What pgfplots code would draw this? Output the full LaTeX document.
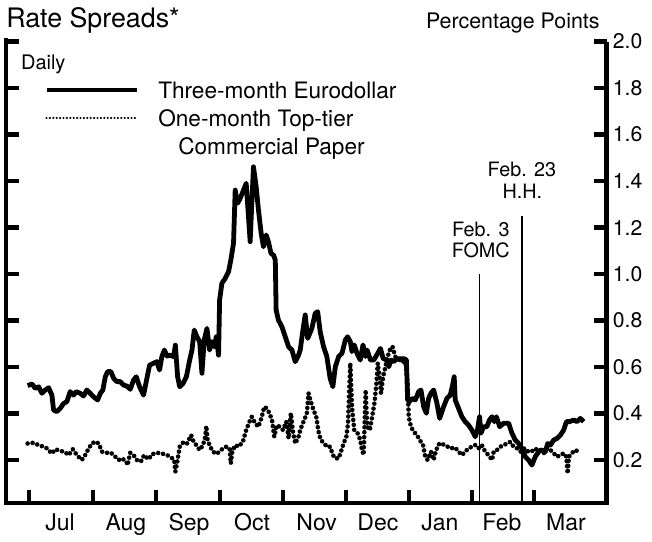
\documentclass[border=0pt]{standalone}
\usepackage{pgfplots}
\pgfplotsset{compat=1.18}
\usepackage{pgfplotstable}
\usepackage{fontspec}
\setmainfont{TeX Gyre Heros}

\pgfplotstableread{
day val
-0.8 0.520
1.3 0.527
2.9 0.508
4.5 0.515
6.1 0.487
7.7 0.501
9.3 0.511
10.9 0.479
11.7 0.415
13.3 0.408
14.9 0.422
16.5 0.443
18.1 0.451
19.7 0.494
21.3 0.479
22.6 0.494
24.5 0.487
26.1 0.475
27.7 0.501
29.3 0.487
30.9 0.472
32.9 0.458
34.2 0.487
35.4 0.501
36.6 0.558
37.7 0.580
39.3 0.580
40.6 0.551
42.2 0.537
43.8 0.537
45.4 0.522
47.0 0.518
48.6 0.504
50.2 0.544
51.5 0.558
53.1 0.515
55.0 0.479
56.6 0.551
57.9 0.608
59.8 0.616
61.4 0.623
62.7 0.587
63.8 0.644
65.0 0.673
66.3 0.647
67.9 0.651
69.5 0.644
70.3 0.694
71.4 0.558
72.4 0.515
74.0 0.529
75.6 0.558
77.2 0.630
78.3 0.673
79.4 0.759
80.7 0.730
82.0 0.709
83.1 0.573
84.2 0.716
85.5 0.766
86.8 0.673
87.9 0.709
89.0 0.687
90.0 0.730
91.1 0.651
91.6 0.888
92.7 0.960
94.3 0.981
95.9 1.010
97.0 1.060
98.3 1.132
99.1 1.361
100.2 1.304
101.5 1.325
102.8 1.354
104.4 1.390
105.5 1.246
106.3 1.139
107.1 1.304
107.9 1.461
109.2 1.375
110.3 1.275
111.6 1.175
112.7 1.117
114.0 1.168
115.1 1.139
116.3 1.089
117.6 1.081
118.4 1.060
118.8 0.845
119.9 0.802
121.6 0.773
123.2 0.730
124.8 0.687
126.4 0.673
128.0 0.623
129.6 0.651
130.4 0.673
131.7 0.759
132.8 0.824
134.0 0.723
136.0 0.766
137.6 0.831
138.8 0.838
140.0 0.752
141.6 0.688
143.2 0.645
144.8 0.551
146.1 0.515
147.3 0.601
148.9 0.645
150.5 0.659
152.1 0.716
153.2 0.730
154.5 0.709
155.3 0.666
156.4 0.695
157.7 0.659
159.3 0.630
160.6 0.695
161.8 0.645
162.6 0.673
164.2 0.630
165.8 0.630
167.7 0.659
169.0 0.680
170.3 0.637
171.9 0.630
173.0 0.601
174.1 0.630
175.4 0.623
177.0 0.637
178.6 0.630
180.2 0.637
181.5 0.630
182.1 0.458
183.0 0.451
184.2 0.465
185.8 0.458
187.4 0.494
188.5 0.501
189.8 0.429
191.1 0.401
192.2 0.465
193.3 0.487
194.6 0.501
196.2 0.444
197.5 0.379
199.4 0.429
201.0 0.465
202.6 0.479
203.9 0.529
204.5 0.558
205.0 0.458
206.6 0.422
208.2 0.386
209.8 0.365
211.4 0.350
213.0 0.329
214.6 0.300
215.7 0.329
216.7 0.386
217.4 0.315
218.6 0.343
220.2 0.343
221.5 0.372
222.7 0.386
223.8 0.365
224.8 0.386
226.4 0.343
228.3 0.358
230.7 0.358
232.3 0.315
233.9 0.286
235.5 0.271
237.1 0.250
238.7 0.214
240.3 0.200
241.9 0.178
243.5 0.214
245.2 0.236
246.8 0.243
248.4 0.236
249.5 0.271
250.8 0.264
252.4 0.286
254.0 0.293
255.6 0.307
257.2 0.329
258.5 0.365
260.1 0.365
262.0 0.372
263.6 0.365
265.2 0.379
266.8 0.365
}\eurodollar

\pgfplotstableread{
day val
-0.8 0.271
2.1 0.274
4.5 0.264
6.9 0.257
8.5 0.250
10.9 0.228
12.5 0.246
14.9 0.240
17.3 0.233
18.9 0.221
21.0 0.246
22.9 0.221
25.3 0.200
26.9 0.221
28.6 0.250
30.2 0.271
31.8 0.279
33.4 0.271
35.0 0.236
37.4 0.231
39.3 0.231
41.4 0.214
43.0 0.200
44.6 0.207
46.7 0.193
47.3 0.178
48.6 0.231
50.2 0.221
51.8 0.200
53.7 0.193
55.3 0.221
57.4 0.203
59.0 0.224
61.4 0.231
63.8 0.228
66.3 0.221
67.9 0.214
69.8 0.200
70.3 0.150
71.1 0.185
72.4 0.257
74.3 0.278
75.9 0.271
77.9 0.307
79.1 0.278
80.4 0.264
82.0 0.243
83.6 0.264
84.7 0.300
85.2 0.346
85.8 0.286
87.1 0.257
88.4 0.236
90.0 0.226
91.6 0.236
93.2 0.250
94.8 0.257
96.4 0.250
97.0 0.185
97.7 0.236
99.1 0.264
100.7 0.257
102.8 0.278
104.4 0.329
106.0 0.365
107.1 0.386
108.7 0.358
110.3 0.343
111.9 0.386
113.1 0.429
114.3 0.422
115.6 0.401
116.8 0.372
117.9 0.300
119.2 0.350
120.5 0.343
122.1 0.329
123.7 0.365
124.8 0.293
125.9 0.401
126.9 0.322
128.0 0.271
129.6 0.300
130.4 0.329
132.0 0.365
133.6 0.401
134.4 0.487
135.5 0.451
136.8 0.415
138.1 0.386
139.2 0.322
140.3 0.286
141.9 0.272
143.2 0.257
144.8 0.257
146.1 0.222
147.3 0.207
148.9 0.207
150.0 0.236
151.3 0.272
152.6 0.300
153.4 0.358
154.0 0.501
154.5 0.616
155.3 0.429
156.4 0.329
158.0 0.315
159.3 0.286
160.1 0.243
160.9 0.222
161.4 0.358
161.9 0.501
162.6 0.343
163.9 0.329
165.0 0.386
166.1 0.444
167.1 0.530
167.7 0.616
168.6 0.558
169.3 0.487
170.3 0.558
171.4 0.601
172.5 0.645
173.5 0.673
174.8 0.688
175.7 0.659
176.7 0.630
178.0 0.645
179.4 0.623
181.0 0.623
182.1 0.530
182.6 0.386
183.7 0.343
185.0 0.322
186.6 0.307
187.9 0.286
189.5 0.265
190.6 0.214
191.7 0.200
193.3 0.236
194.6 0.200
195.8 0.243
197.4 0.272
200.2 0.264
202.6 0.250
205.0 0.253
206.6 0.236
208.2 0.221
209.8 0.236
211.4 0.250
213.0 0.257
214.6 0.264
216.2 0.250
217.8 0.264
219.4 0.236
221.0 0.221
222.7 0.200
223.5 0.236
225.1 0.243
226.7 0.257
228.3 0.264
229.9 0.271
231.5 0.278
233.1 0.257
234.8 0.250
236.4 0.236
238.0 0.250
239.6 0.236
241.2 0.243
242.8 0.236
244.4 0.250
246.0 0.243
247.6 0.229
249.2 0.250
250.8 0.243
252.4 0.229
254.0 0.214
255.6 0.221
257.2 0.229
258.5 0.214
259.1 0.142
259.7 0.214
261.1 0.229
262.7 0.243
264.3 0.236
}\paper

\begin{document}
\begin{tikzpicture}
\begin{axis}[
  scale only axis,
  width=300.25pt, height=230.75pt,
  xmin=-11.2, xmax=277.8,
  ymin=0.015, ymax=2.0,
  clip=false,
  axis line style={draw=none},
  tick align=inside,
  major tick length=6.5pt,
  tick style={line width=2.1pt, black},
  xtick={0,30.5,61,91.8,122.2,152.4,182.6,213,243},
  xticklabels={,,,,,,,,},
  xtick pos=bottom,
  extra x ticks={14.8,46.5,76.9,107.2,138.3,167.8,197.6,227.5,258.3},
  extra x tick labels={Jul,Aug,Sep,Oct,Nov,Dec,Jan,Feb,Mar},
  extra x tick style={major tick length=0pt,
    xticklabel style={font=\fontsize{11.5}{13}\selectfont, inner sep=0pt, yshift=-5pt}},
  ytick={0.2,0.4,0.6,0.8,1.0,1.2,1.4,1.6,1.8,2.0},
  ytick pos=both,
  yticklabel pos=right,
  yticklabel style={font=\fontsize{10.6}{12}\selectfont, inner sep=0pt, xshift=3pt,
    /pgf/number format/.cd, fixed, fixed zerofill, precision=1, assume math mode=true},
  legend style={at={(0.0638,0.9203)}, anchor=north west, draw=none, fill=none,
    inner sep=0pt, outer sep=0pt, row sep=2.3pt, column sep=9.5pt,
    font=\fontsize{11.3}{13}\selectfont,
    nodes={inner sep=0pt, text height=10pt, text depth=1.7pt}},
  legend cell align=left,
  legend image code/.code={\draw[#1] (0pt,0pt) -- (45.3pt,0pt);},
]
\addlegendimage{black, line width=2.2pt}
\addlegendentry{Three-month Eurodollar}
\addlegendimage{black, line width=1.2pt, line cap=round, dash pattern=on 0pt off 1.7pt}
\addlegendentry{One-month Top-tier}
\addlegendimage{empty legend}
\addlegendentry{\hspace*{10pt}Commercial Paper}

\addplot[forget plot, black, line width=0.7pt] coordinates {(216.6,0.015) (216.6,1.0)};
\addplot[forget plot, black, line width=0.7pt] coordinates {(237.1,0.015) (237.1,1.25)};

\addplot[forget plot, black, line width=2.3pt, line cap=round, dash pattern=on 0pt off 2.5pt] table[x=day, y=val] {\paper};
\addplot[forget plot, black, line width=2.4pt, line join=round] table[x=day, y=val] {\eurodollar};

\draw[line width=2.2pt, line join=miter] (rel axis cs:0,1.008) -- (rel axis cs:0,0) -- (rel axis cs:1,0) -- (rel axis cs:1,1);

\node[anchor=base west, inner sep=0pt, font=\fontsize{10}{12}\selectfont] at (rel axis cs:0.0245,0.9398) {Daily};

\node[anchor=base, inner sep=0pt, font=\fontsize{9.9}{12}\selectfont] at (axis cs:217.3,1.163) {Feb. 3};
\node[anchor=base, inner sep=0pt, font=\fontsize{9.9}{12}\selectfont] at (axis cs:217.3,1.069) {FOMC};
\node[anchor=base, inner sep=0pt, font=\fontsize{9.9}{12}\selectfont] at (axis cs:237.1,1.418) {Feb. 23};
\node[anchor=base, inner sep=0pt, font=\fontsize{9.9}{12}\selectfont] at (axis cs:237.3,1.323) {H.H.};
\end{axis}
\node[anchor=base west, inner sep=0pt, font=\fontsize{13.4}{15}\selectfont] at (0pt,237.75pt) {Rate Spreads*};
\node[anchor=base east, inner sep=0pt, font=\fontsize{10.7}{13}\selectfont] at (297pt,237pt) {Percentage Points};
\path[use as bounding box] (-3pt,-19pt) rectangle (323pt,251.5pt);
\end{tikzpicture}
\end{document}
